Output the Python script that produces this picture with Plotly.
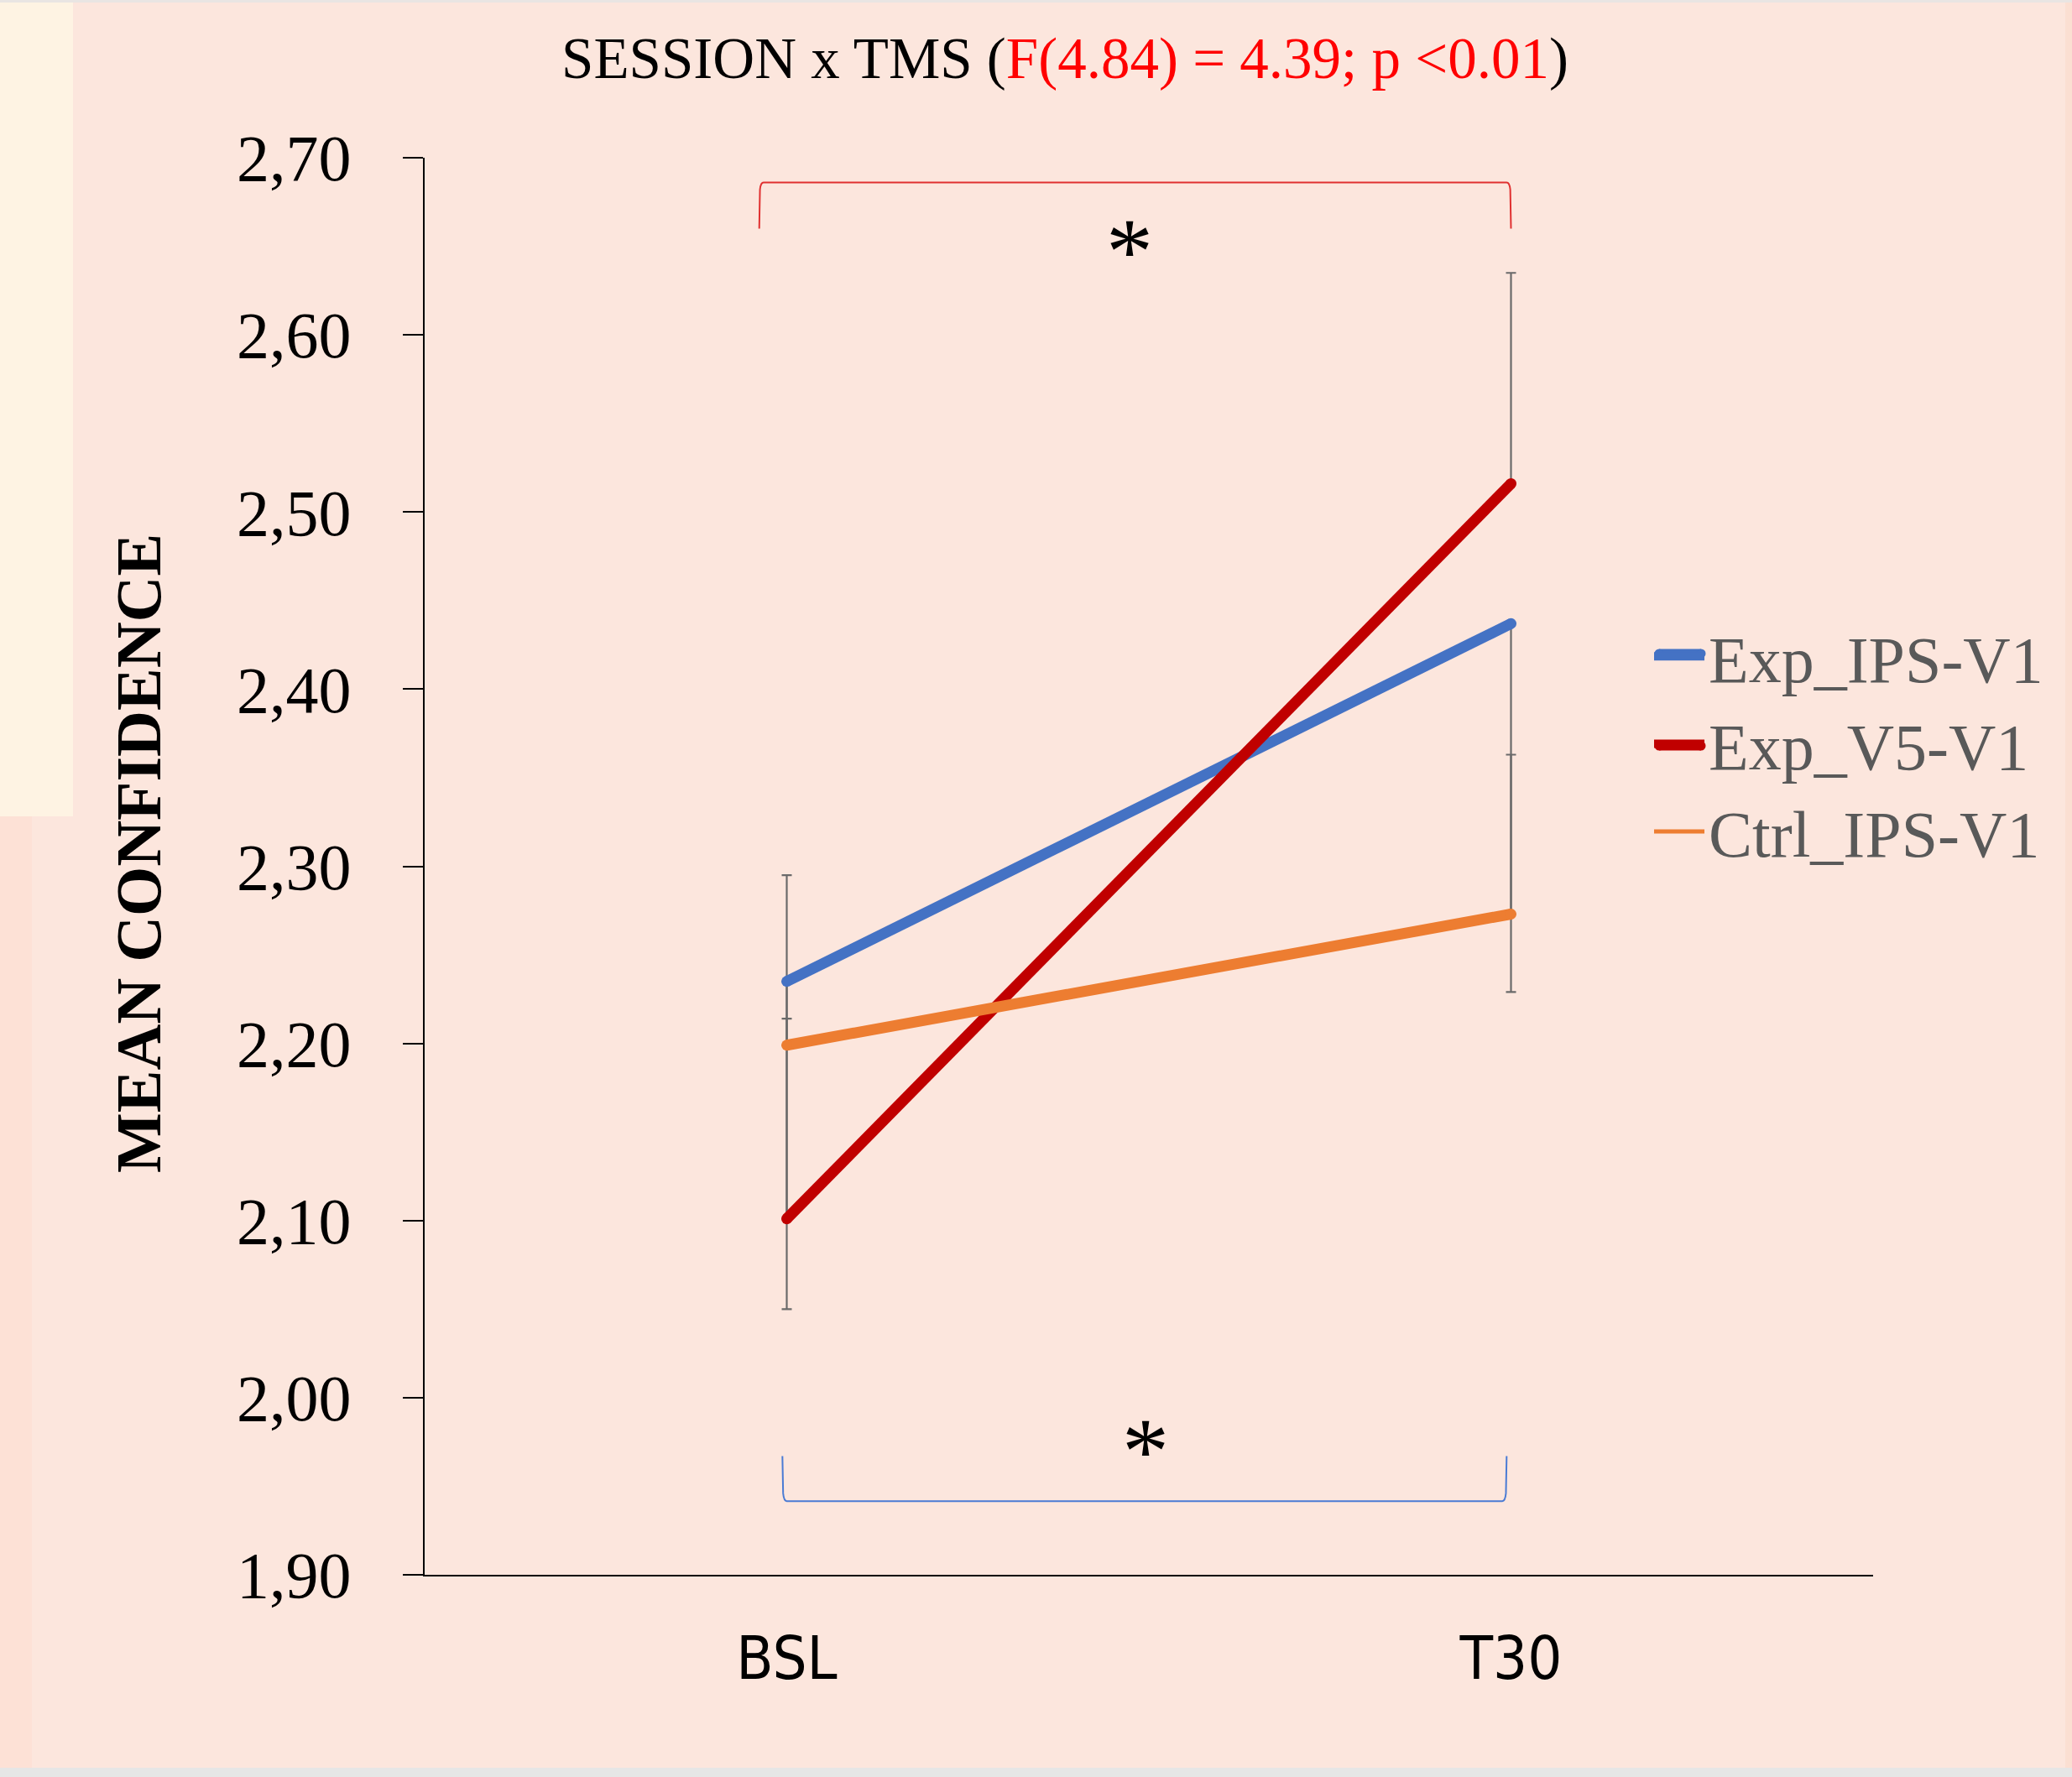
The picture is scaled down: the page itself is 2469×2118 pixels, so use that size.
import plotly.graph_objects as go

# ---------------- data ----------------
categories = ["BSL", "T30"]
series_names = ["Exp_IPS-V1", "Exp_V5-V1", "Ctrl_IPS-V1"]
exp_ips_v1 = [2.235, 2.437]
exp_v5_v1 = [2.101, 2.516]
ctrl_ips_v1 = [2.199, 2.273]
# one-sided error bars
exp_v5_err_plus = [0.194, 0.119]
exp_ips_err_minus = [0.185, 0.208]
ctrl_ips_err_plus = [0.015, 0.090]
y_tickvals = [1.90, 2.00, 2.10, 2.20, 2.30, 2.40, 2.50, 2.60, 2.70]
y_ticktext = ["1,90", "2,00", "2,10", "2,20", "2,30", "2,40", "2,50", "2,60", "2,70"]
title_black = "SESSION x TMS ("
title_red = "F(4.84) = 4.39; p &lt;0.01"
title_end = ")"
y_title = "MEAN CONFIDENCE"

# ---------------- styles ----------------
BLUE = "#4472C4"
RED = "#C00000"
ORANGE = "#ED7D31"
ERR = "#6A6A6A"
BG = "#FCE6DD"
SERIF = "Liberation Serif, Times New Roman, serif"
SANS_NARROW = "Liberation Sans Narrow, DejaVu Sans Condensed, Liberation Sans, sans-serif"
LW = 13

W, H = 2469, 2118
L, R, T, B = 506, 2469 - 2232, 188, 2118 - 1877
PW, PH = W - L - R, H - T - B


def px_x(p):
    return (p - L) / PW


def px_y(p):
    return (H - B - p) / PH


fig = go.Figure()

# error bars (drawn underneath the lines)
zero = [0, 0]
for vals, plus, minus in [
    (exp_ips_v1, zero, exp_ips_err_minus),
    (exp_v5_v1, exp_v5_err_plus, zero),
    (ctrl_ips_v1, ctrl_ips_err_plus, zero),
]:
    fig.add_trace(go.Scatter(
        x=categories, y=vals, mode="markers",
        marker=dict(size=1, color="rgba(0,0,0,0)"),
        error_y=dict(type="data", symmetric=False, array=plus, arrayminus=minus,
                     color=ERR, thickness=2.2, width=6),
        showlegend=False, hoverinfo="skip"))

# lines
for name, vals, col in [
    (series_names[0], exp_ips_v1, BLUE),
    (series_names[1], exp_v5_v1, RED),
    (series_names[2], ctrl_ips_v1, ORANGE),
]:
    fig.add_trace(go.Scatter(
        x=categories, y=vals, mode="lines+markers", name=name,
        line=dict(color=col, width=LW),
        marker=dict(color=col, size=LW, line=dict(width=0)),
        showlegend=False))

# legend entries (Excel shows the control line thinner in the legend)
for name, col, w in [
    (series_names[0], BLUE, 10),
    (series_names[1], RED, 10),
    (series_names[2], ORANGE, 5),
]:
    fig.add_trace(go.Scatter(
        x=[None], y=[None], mode="lines", name=name,
        line=dict(color=col, width=w), showlegend=True))

LEG_TOP = 725

shapes = []
# background decorations
shapes.append(dict(type="rect", xref="paper", yref="paper", layer="below",
                   x0=px_x(0), x1=px_x(87), y0=px_y(973), y1=px_y(0),
                   fillcolor="#FEF3E3", line=dict(width=0)))
shapes.append(dict(type="rect", xref="paper", yref="paper", layer="below",
                   x0=px_x(0), x1=px_x(38), y0=px_y(2107), y1=px_y(973),
                   fillcolor="#FDE1D6", line=dict(width=0)))
shapes.append(dict(type="rect", xref="paper", yref="paper", layer="below",
                   x0=px_x(0), x1=px_x(W), y0=px_y(H), y1=px_y(2107),
                   fillcolor="#E6E6E6", line=dict(width=0)))
shapes.append(dict(type="rect", xref="paper", yref="paper", layer="below",
                   x0=px_x(0), x1=px_x(W), y0=px_y(3), y1=px_y(0),
                   fillcolor="#E9E5E3", line=dict(width=0)))
shapes.append(dict(type="rect", xref="paper", yref="paper", layer="below",
                   x0=px_x(2461), x1=px_x(W), y0=px_y(2107), y1=px_y(3),
                   fillcolor="#FBDFD2", line=dict(width=0)))

# thicker swatches behind the legend lines of the two experimental series
for col, yy in [(BLUE, LEG_TOP + 54), (RED, LEG_TOP + 164)]:
    shapes.append(dict(type="line", xref="paper", yref="paper", layer="above",
                       x0=px_x(1977), x1=px_x(2027), y0=px_y(yy), y1=px_y(yy),
                       line=dict(color=col, width=11)))
    for xx in (1977, 2027):
        shapes.append(dict(type="circle", xref="paper", yref="paper", layer="above",
                           x0=px_x(xx - 5.5), x1=px_x(xx + 5.5),
                           y0=px_y(yy + 5.5), y1=px_y(yy - 5.5),
                           fillcolor=col, line=dict(width=0)))

# significance brackets (data coords, category index on x)
shapes.append(dict(type="path", xref="x", yref="y",
                   path="M -0.038,2.660 L -0.037,2.682 Q -0.036,2.686 -0.032,2.686 "
                        "L 0.994,2.686 Q 0.998,2.686 0.999,2.682 L 1.000,2.660",
                   line=dict(color="#E03030", width=2)))
shapes.append(dict(type="path", xref="x", yref="y",
                   path="M -0.006,1.967 L -0.005,1.946 Q -0.004,1.9416 0.000,1.9416 "
                        "L 0.988,1.9416 Q 0.992,1.9416 0.993,1.946 L 0.994,1.967",
                   line=dict(color="#4A7BD4", width=2)))

annotations = [
    dict(text="*", x=0.473, y=2.653, xref="x", yref="y", showarrow=False,
         font=dict(family=SERIF, size=112, color="black"), yshift=-12),
    dict(text="*", x=0.495, y=1.976, xref="x", yref="y", showarrow=False,
         font=dict(family=SERIF, size=112, color="black"), yshift=-12),
    dict(text=y_title, textangle=-90, xref="paper", yref="paper",
         x=px_x(165), y=px_y(1017), xanchor="center", yanchor="middle", showarrow=False,
         font=dict(family=SERIF, size=76, color="black", weight="bold")),
]

fig.update_layout(
    width=W, height=H,
    margin=dict(l=L, r=R, t=T, b=B, autoexpand=False),
    paper_bgcolor=BG, plot_bgcolor="rgba(0,0,0,0)",
    title=dict(text=title_black + "<span style='color:#FF0000'>" + title_red + "</span>" + title_end,
               xref="container", yref="container", x=1269 / W, y=1 - 69 / H,
               xanchor="center", yanchor="middle",
               font=dict(family=SERIF, size=69, color="black")),
    showlegend=True,
    legend=dict(x=px_x(1966), y=px_y(LEG_TOP), xanchor="left", yanchor="top",
                bgcolor="rgba(0,0,0,0)", itemwidth=60,
                font=dict(family=SERIF, size=78, color="#595959"),
                tracegroupgap=0),
    shapes=shapes, annotations=annotations,
    xaxis=dict(type="category", range=[-0.5, 1.5], showgrid=False, zeroline=False,
               showline=True, linecolor="black", linewidth=2, ticks="",
               tickfont=dict(family=SANS_NARROW, size=72, color="black"),
               ticklabelstandoff=36, fixedrange=True),
    yaxis=dict(range=[1.9, 2.7], tickvals=y_tickvals, ticktext=y_ticktext,
               showgrid=False, zeroline=False, showline=True, linecolor="black",
               linewidth=2, ticks="outside", ticklen=24, tickwidth=2, tickcolor="black",
               tickfont=dict(family=SERIF, size=78, color="black"),
               ticklabelstandoff=46, fixedrange=True),
)

fig.write_html("out.html", config={"displayModeBar": False},
               post_script="document.body.style.margin='0';document.body.style.overflow='hidden';")
